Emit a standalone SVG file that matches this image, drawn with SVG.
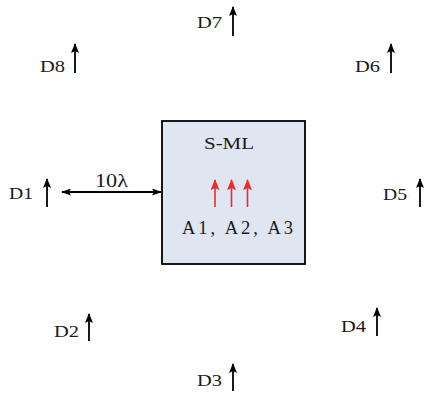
<svg xmlns="http://www.w3.org/2000/svg" width="425" height="394" viewBox="0 0 425 394">
<defs>
<style>
text{font-family:"Liberation Serif","DejaVu Serif",serif;font-size:17px;fill:#1a1a1a}
.ax{stroke:#000;stroke-width:1.8;fill:none}
.ra{stroke:#ee2a2a;stroke-width:1.6;fill:none}
</style>
<marker id="hb" viewBox="0 0 10 8" refX="9" refY="4" markerWidth="11" markerHeight="8" markerUnits="userSpaceOnUse" orient="auto">
<path d="M0,0 L10,4 L0,8 L2,4 Z" fill="#000"/>
</marker>
<marker id="hs" viewBox="0 0 10 7" refX="9" refY="3.5" markerWidth="10" markerHeight="7" markerUnits="userSpaceOnUse" orient="auto-start-reverse">
<path d="M0,0 L10,3.5 L0,7 L2,3.5 Z" fill="#000"/>
</marker>
<marker id="hr" viewBox="0 0 10 8" refX="9" refY="4" markerWidth="13" markerHeight="9" markerUnits="userSpaceOnUse" orient="auto">
<path d="M0,0 L10,4 L0,8 L2,4 Z" fill="#ee2a2a"/>
</marker>
</defs>
<g id="sml">
<rect x="162" y="121" width="143" height="143" fill="#dfe5f1" stroke="#000" stroke-width="1.8"/>
<text x="204" y="149" textLength="50" lengthAdjust="spacingAndGlyphs">S-ML</text>
<line class="ra" x1="215" y1="207" x2="215" y2="180" marker-end="url(#hr)"/>
<line class="ra" x1="231.5" y1="207" x2="231.5" y2="180" marker-end="url(#hr)"/>
<line class="ra" x1="247.5" y1="207" x2="247.5" y2="180" marker-end="url(#hr)"/>
<text x="182" y="234" style="font-size:18.5px" textLength="111" lengthAdjust="spacing">A1, A2, A3</text>
</g>
<g id="D1"><text x="9" y="199" textLength="24" lengthAdjust="spacingAndGlyphs">D1</text><line class="ax" x1="47" y1="207" x2="47" y2="179" marker-end="url(#hb)"/></g>
<g id="D2"><text x="54" y="337" textLength="25" lengthAdjust="spacingAndGlyphs">D2</text><line class="ax" x1="89" y1="341" x2="89" y2="314" marker-end="url(#hb)"/></g>
<g id="D3"><text x="197" y="386" textLength="25" lengthAdjust="spacingAndGlyphs">D3</text><line class="ax" x1="233" y1="391" x2="233" y2="364" marker-end="url(#hb)"/></g>
<g id="D4"><text x="341" y="332" textLength="25" lengthAdjust="spacingAndGlyphs">D4</text><line class="ax" x1="377" y1="336" x2="377" y2="308" marker-end="url(#hb)"/></g>
<g id="D5"><text x="383" y="200" textLength="24" lengthAdjust="spacingAndGlyphs">D5</text><line class="ax" x1="420" y1="207" x2="420" y2="179" marker-end="url(#hb)"/></g>
<g id="D6"><text x="355" y="72" textLength="25" lengthAdjust="spacingAndGlyphs">D6</text><line class="ax" x1="391" y1="73" x2="391" y2="44" marker-end="url(#hb)"/></g>
<g id="D7"><text x="197" y="28" textLength="25" lengthAdjust="spacingAndGlyphs">D7</text><line class="ax" x1="233" y1="36" x2="233" y2="7" marker-end="url(#hb)"/></g>
<g id="D8"><text x="40" y="72" textLength="25" lengthAdjust="spacingAndGlyphs">D8</text><line class="ax" x1="75" y1="73" x2="75" y2="44" marker-end="url(#hb)"/></g>
<g id="connectors">
<line class="ax" x1="62" y1="192" x2="161" y2="192" stroke-width="1.5" marker-start="url(#hs)" marker-end="url(#hs)"/>
<text x="95" y="187" style="font-size:18px" textLength="33" lengthAdjust="spacingAndGlyphs">10λ</text>
</g>
</svg>
